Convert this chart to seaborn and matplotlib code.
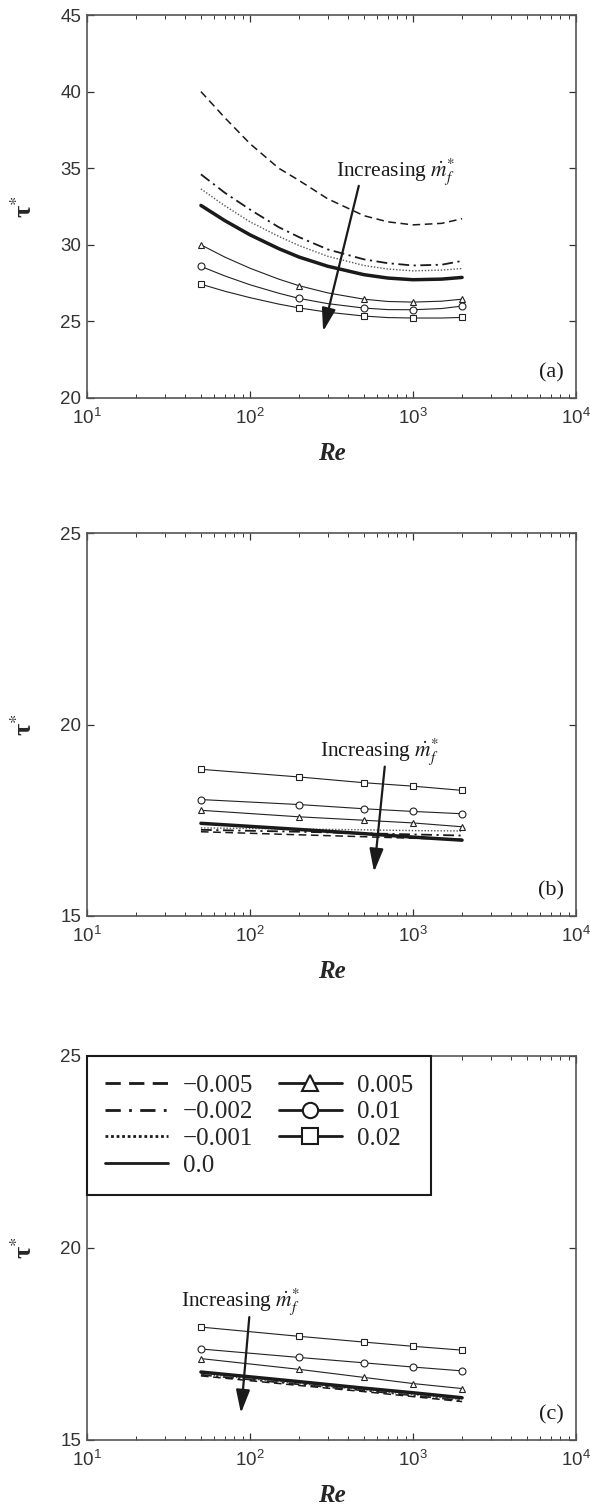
import numpy as np
import matplotlib
matplotlib.use("Agg")
import matplotlib.pyplot as plt
from matplotlib.lines import Line2D
from matplotlib.ticker import LogLocator, NullLocator, FixedLocator
import seaborn as sns

# ---------------------------------------------------------------- data
# Reynolds numbers: dense grid for the smooth curves, marker stations
re_fine = [50, 70, 100, 150, 200, 300, 500, 700, 1000, 1500, 2000]
re_mark = [50, 200, 500, 1000, 2000]
mark_idx = [0, 4, 6, 8, 10]          # positions of re_mark inside re_fine

series_labels = ["\u22120.005", "\u22120.002", "\u22120.001", "0.0", "0.005", "0.01", "0.02"]

# panel (a)
a_m0005 = [40.0, 38.3, 36.6, 35.0, 34.2, 33.0, 31.9, 31.5, 31.3, 31.4, 31.7]
a_m0002 = [34.6, 33.4, 32.3, 31.15, 30.5, 29.7, 29.05, 28.8, 28.65, 28.7, 28.95]
a_m0001 = [33.65, 32.55, 31.5, 30.55, 29.95, 29.25, 28.65, 28.42, 28.3, 28.35, 28.45]
a_0 = [32.57, 31.58, 30.65, 29.75, 29.2, 28.6, 28.05, 27.83, 27.72, 27.76, 27.87]
a_p0005 = [30.0, 29.2, 28.47, 27.76, 27.33, 26.86, 26.45, 26.3, 26.26, 26.32, 26.45]
a_p001 = [28.59, 27.97, 27.39, 26.84, 26.5, 26.16, 25.87, 25.77, 25.76, 25.84, 26.0]
a_p002 = [27.43, 26.97, 26.55, 26.13, 25.88, 25.6, 25.35, 25.25, 25.22, 25.22, 25.26]

# panel (b)
b_m0005 = [17.2, 17.12, 17.07, 17.03, 17.0]
b_m0002 = [17.25, 17.2, 17.16, 17.13, 17.1]
b_m0001 = [17.3, 17.27, 17.25, 17.23, 17.22]
b_0 = [17.42, 17.26, 17.15, 17.06, 16.98]
b_p0005 = [17.76, 17.59, 17.5, 17.43, 17.33]
b_p001 = [18.04, 17.91, 17.8, 17.73, 17.67]
b_p002 = [18.83, 18.63, 18.48, 18.39, 18.28]

# panel (c)
c_m0005 = [16.67, 16.42, 16.26, 16.13, 16.0]
c_m0002 = [16.7, 16.45, 16.29, 16.16, 16.03]
c_m0001 = [16.72, 16.47, 16.31, 16.18, 16.05]
c_0 = [16.77, 16.52, 16.35, 16.23, 16.1]
c_p0005 = [17.12, 16.84, 16.63, 16.47, 16.34]
c_p001 = [17.37, 17.15, 17.01, 16.9, 16.8]
c_p002 = [17.94, 17.7, 17.55, 17.44, 17.34]

# "Increasing m_f" annotation: text anchor, arrow tail, arrow head
annot_a = dict(text=(338, 34.5), tail=(465, 33.85), head=(281, 24.35))
annot_b = dict(text=(270, 19.18), tail=(671, 18.9), head=(577, 16.15))
annot_c = dict(text=(37.8, 18.5), tail=(99, 18.2), head=(88, 15.7))

# ---------------------------------------------------------------- style
sns.set_theme(style="white")
plt.rcParams["font.family"] = ["Liberation Sans", "DejaVu Sans"]
plt.rcParams["mathtext.fontset"] = "stix"

SERIF = "Liberation Serif"
INK = "#222222"

line_styles = [
    dict(linestyle=(0, (5, 3)), linewidth=1.1, color="k"),
    dict(linestyle=(0, (6, 2.5, 1.2, 2.5)), linewidth=1.3, color="k"),
    dict(linestyle=(0, (1, 1.3)), linewidth=1.0, color="#555555"),
    dict(linestyle="-", linewidth=2.5, color="k"),
]
marker_styles = ["^", "o", "s"]


def draw_panel(ax, x, curves, marked, markevery):
    for vals, st in zip(curves, line_styles):
        sns.lineplot(x=x, y=vals, ax=ax, estimator=None, errorbar=None, **st)
    for vals, mk in zip(marked, marker_styles):
        sns.lineplot(x=x, y=vals, ax=ax, estimator=None, errorbar=None,
                     color=INK, linewidth=0.8, marker=mk, markersize=5,
                     markerfacecolor="white", markeredgecolor=INK,
                     markeredgewidth=0.8, markevery=markevery)


def style_axes(ax, ylim, yticks, tag):
    ax.set_xscale("log")
    ax.set_xlim(10, 1e4)
    ax.set_ylim(*ylim)
    ax.xaxis.set_major_locator(LogLocator(base=10, numticks=10))
    ax.xaxis.set_minor_locator(LogLocator(base=10, subs=np.arange(2, 10), numticks=40))
    ax.yaxis.set_major_locator(FixedLocator(yticks))
    ax.yaxis.set_minor_locator(NullLocator())
    ax.tick_params(which="both", direction="in", top=True, right=True,
                   bottom=True, left=True, color="#333333",
                   labelcolor="#333333", labelsize=13.5)
    ax.tick_params(axis="x", which="both", pad=7)
    ax.tick_params(axis="y", which="both", pad=4)
    ax.tick_params(which="major", length=5, width=0.9)
    ax.tick_params(which="minor", length=3, width=0.7)
    for sp in ax.spines.values():
        sp.set_visible(True)
        sp.set_color("#555555")
        sp.set_linewidth(1.2)
    ax.grid(False)
    ax.set_xlabel("Re", fontfamily=SERIF, fontstyle="italic",
                  fontweight="bold", fontsize=18)
    ax.xaxis.set_label_coords(0.5, -0.115)
    ax.set_ylabel("\u03c4$^{*}$", fontfamily=SERIF, fontweight="bold", fontsize=19)
    ax.yaxis.set_label_coords(-0.102, 0.5)
    ax.text(0.975, 0.065, tag, transform=ax.transAxes, ha="right",
            va="center", fontsize=16, fontfamily=SERIF, color="k")


def annotate(ax, spec):
    ax.text(*spec["text"], "Increasing $\\dot{m}_f^{*}$", fontfamily=SERIF,
            fontsize=15.5, ha="left", va="baseline", color="k")
    ax.annotate("", xy=spec["head"], xytext=spec["tail"],
                arrowprops=dict(arrowstyle="-|>,head_length=1.0,head_width=0.3",
                                mutation_scale=14, lw=1.6, color="k",
                                shrinkA=0, shrinkB=0))


# ---------------------------------------------------------------- figure
fig = plt.figure(figsize=(5.9, 15.07), dpi=100)
left, width = 87 / 590, 489 / 590
ax_a = fig.add_axes([left, 1 - 398 / 1507, width, 383 / 1507])
ax_b = fig.add_axes([left, 1 - 916 / 1507, width, 383 / 1507])
ax_c = fig.add_axes([left, 1 - 1440 / 1507, width, 384 / 1507])

draw_panel(ax_a, re_fine, [a_m0005, a_m0002, a_m0001, a_0],
           [a_p0005, a_p001, a_p002], mark_idx)
draw_panel(ax_b, re_mark, [b_m0005, b_m0002, b_m0001, b_0],
           [b_p0005, b_p001, b_p002], None)
draw_panel(ax_c, re_mark, [c_m0005, c_m0002, c_m0001, c_0],
           [c_p0005, c_p001, c_p002], None)

style_axes(ax_a, (20, 45), [20, 25, 30, 35, 40, 45], "(a)")
style_axes(ax_b, (15, 25), [15, 20, 25], "(b)")
style_axes(ax_c, (15, 25), [15, 20, 25], "(c)")

annotate(ax_a, annot_a)
annotate(ax_b, annot_b)
annotate(ax_c, annot_c)

# legend for the fuel-injection rates
handles = [
    Line2D([], [], color="k", lw=2.0, linestyle=(0, (5.5, 3))),
    Line2D([], [], color="k", lw=2.0, linestyle=(0, (5.5, 3, 1, 3))),
    Line2D([], [], color="k", lw=2.0, linestyle=(0, (1, 1))),
    Line2D([], [], color="k", lw=2.0, linestyle="-"),
]
for mk in marker_styles:
    handles.append(Line2D([], [], color="k", lw=2.0, marker=mk, markersize=11,
                          markerfacecolor="white", markeredgecolor="k",
                          markeredgewidth=1.5))
leg = ax_c.legend(handles, series_labels, loc="upper left",
                  bbox_to_anchor=(0, 1), ncol=2,
                  frameon=True, fancybox=False, framealpha=1, edgecolor="k",
                  prop=dict(family=SERIF, size=18), handlelength=2.5,
                  handletextpad=0.6, labelspacing=0.17, borderpad=0.72,
                  borderaxespad=0, columnspacing=1.05)
leg.get_frame().set_linewidth(1.5)

fig.savefig("out.png", dpi=100)
